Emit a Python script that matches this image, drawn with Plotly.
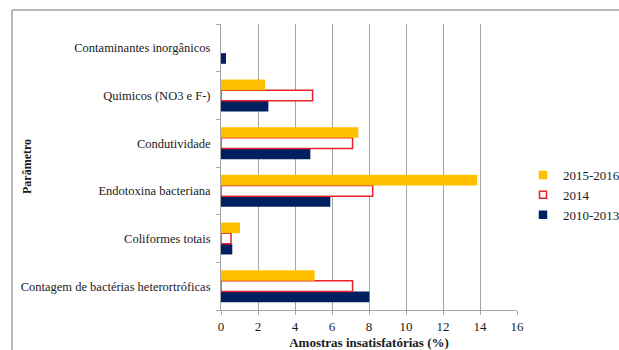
import plotly.graph_objects as go

# Parameters, listed from the bottom of the chart to the top
categories = [
    "Contagem de bactérias heterortróficas",
    "Coliformes totais",
    "Endotoxina bacteriana",
    "Condutividade",
    "Quimicos (NO3 e F-)",
    "Contaminantes inorgânicos",
]

# Percentage of unsatisfactory samples per period
v_2010_2013 = [8.02, 0.61, 5.91, 4.83, 2.56, 0.27]
v_2014 = [7.11, 0.54, 8.20, 7.11, 4.95, 0.0]
v_2015_2016 = [5.06, 1.03, 13.84, 7.42, 2.38, 0.0]

x_ticks = [0, 2, 4, 6, 8, 10, 12, 14, 16]

FONT = "'Liberation Serif', 'DejaVu Serif', serif"
GRID = "#a6a6a6"
NAVY = "#002060"
RED = "#e8202a"
GOLD = "#ffc000"

fig = go.Figure()
fig.add_trace(go.Bar(
    name="2010-2013", y=categories, x=v_2010_2013, orientation="h",
    marker=dict(color=NAVY, line=dict(width=0)), showlegend=False,
))
# hollow bars: no outline where the value is zero
fig.add_trace(go.Bar(
    name="2014", y=categories, x=v_2014, orientation="h",
    marker=dict(color="white",
                line=dict(color=RED, width=[1.5 if v > 0 else 0 for v in v_2014])),
    showlegend=False,
))
fig.add_trace(go.Bar(
    name="2015-2016", y=categories, x=v_2015_2016, orientation="h",
    marker=dict(color=GOLD, line=dict(width=0)), showlegend=False,
))

# small square keys for the legend
for name, sym, col in [("2010-2013", "square", NAVY),
                       ("2014", "square-open", RED),
                       ("2015-2016", "square", GOLD)]:
    fig.add_trace(go.Scatter(
        name=name, x=[None], y=[None], mode="markers",
        marker=dict(symbol=sym, size=7, color=col, line=dict(width=1.5, color=col)),
    ))

L, R, T, B = 221, 102, 24, 40
W, H = 619, 350
pw, ph = W - L - R, H - T - B

def px_x(p):
    return (p - L) / pw

def px_y(p):
    return (H - B - p) / ph

fig.update_layout(
    width=W, height=H,
    margin=dict(l=L, r=R, t=T, b=B, autoexpand=False),
    paper_bgcolor="white", plot_bgcolor="white",
    barmode="group", bargap=0.33, bargroupgap=0,
    font=dict(family=FONT, size=12, color="#1a1a1a"),
    showlegend=True,
    legend=dict(
        traceorder="reversed", x=px_x(523), y=px_y(195),
        xanchor="left", yanchor="middle",
        font=dict(family=FONT, size=13, color="#1a1a1a"),
        bgcolor="rgba(0,0,0,0)", itemwidth=30, tracegroupgap=0,
    ),
    xaxis=dict(
        range=[0, 16], tickvals=x_ticks, ticktext=[str(t) for t in x_ticks],
        showgrid=True, gridcolor=GRID, gridwidth=1,
        showline=True, linecolor=GRID, linewidth=1,
        ticks="outside", ticklen=4, tickcolor=GRID,
        tickfont=dict(family=FONT, size=13, color="#1a1a1a"),
        zeroline=False,
        title=dict(text="<b>Amostras insatisfatórias (%)</b>",
                   font=dict(family=FONT, size=13, color="#1a1a1a"), standoff=6),
    ),
    yaxis=dict(
        categoryorder="array", categoryarray=categories,
        showgrid=False, showline=True, linecolor=GRID, linewidth=1,
        ticks="outside", ticklen=4, tickcolor=GRID, tickson="boundaries",
        tickfont=dict(family=FONT, size=12.5, color="#1a1a1a"),
        ticklabelstandoff=7,
    ),
    annotations=[dict(
        text="<b>Parâmetro</b>", textangle=-90, showarrow=False,
        xref="paper", yref="paper", x=px_x(27), y=px_y(167),
        xanchor="center", yanchor="middle",
        font=dict(family=FONT, size=12, color="#1a1a1a"),
    )],
    shapes=[
        # outer frame of the figure (top and left edges visible)
        dict(type="line", xref="paper", yref="paper",
             x0=px_x(12), x1=px_x(640), y0=px_y(10), y1=px_y(10),
             line=dict(color="#a0a0a0", width=1.5)),
        dict(type="line", xref="paper", yref="paper",
             x0=px_x(12), x1=px_x(12), y0=px_y(10), y1=px_y(360),
             line=dict(color="#a0a0a0", width=1.5)),
    ],
)

fig.write_html("out.html")
